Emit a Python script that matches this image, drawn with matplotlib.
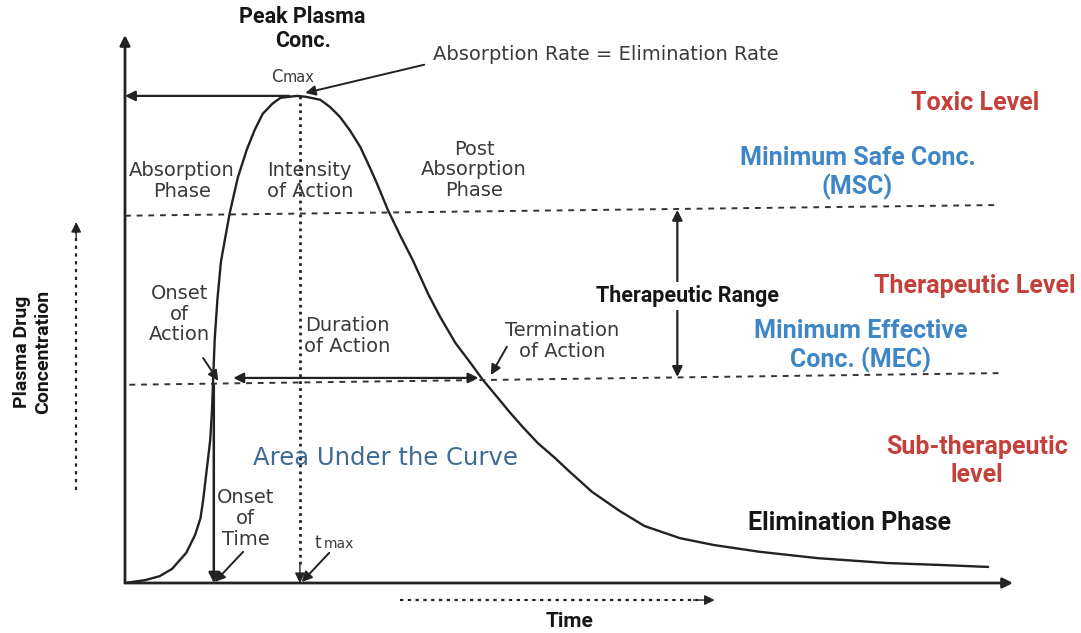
import matplotlib
matplotlib.use("Agg")
import matplotlib.pyplot as plt

# --- data (time in arbitrary units, conc. scaled so Cmax = 10) ---
time = [0.00, 0.23, 0.39, 0.53, 0.69, 0.79, 0.85, 0.88, 0.92, 0.96,
        0.98, 0.99, 1.01, 1.04, 1.08, 1.13, 1.18, 1.27, 1.37, 1.46,
        1.55, 1.66, 1.75, 1.84, 1.94, 2.04, 2.20, 2.31, 2.42, 2.53,
        2.65, 2.76, 2.84, 2.96, 3.10, 3.24, 3.42, 3.55, 3.72, 3.89,
        4.03, 4.19, 4.34, 4.49, 4.65, 4.84, 5.01, 5.26, 5.57, 5.85,
        6.25, 6.63, 7.15, 7.80, 8.58, 9.18, 9.72]
conc = [0.00, 0.06, 0.14, 0.29, 0.62, 0.99, 1.33, 1.70, 2.32, 2.94,
        3.55, 4.07, 4.99, 5.81, 6.59, 7.10, 7.60, 8.32, 8.89, 9.30,
        9.63, 9.84, 9.96, 9.98, 10.00, 9.98, 9.92, 9.77, 9.57, 9.30,
        8.95, 8.52, 8.19, 7.66, 7.13, 6.63, 5.91, 5.46, 4.93, 4.52,
        4.17, 3.82, 3.49, 3.18, 2.87, 2.57, 2.28, 1.87, 1.48, 1.17,
        0.92, 0.78, 0.64, 0.51, 0.41, 0.37, 0.33]

# level lines (slightly tilted in the source drawing)
msc_t = [0.0, 9.85]
msc_c = [7.54, 7.76]
mec_t = [0.05, 9.90]
mec_c = [4.07, 4.31]

t_onset = 1.00
t_max = 1.97
t_term = 4.03
c_max = max(conc)

GRAY = "#3a3a3a"
BLUE = "#3f86c6"
RED = "#c4413b"
AUC = "#3d6b96"
INK = "#161616"
BOLD = ["Roboto", "DejaVu Sans"]
REG = ["DejaVu Sans"]

fig = plt.figure(figsize=(10.81, 6.33), dpi=100)
ax = fig.add_axes([125 / 1081, 50 / 633, 888 / 1081, 548 / 633])
ax.set_xlim(0, 10)
ax.set_ylim(0, 11.25)
ax.axis("off")


def arrow(x0, y0, x1, y1, style="-|>", lw=1.8, scale=15, color="#222222"):
    ax.annotate("", xy=(x1, y1), xytext=(x0, y0), annotation_clip=False,
                arrowprops=dict(arrowstyle=style, lw=lw, color=color,
                                mutation_scale=scale, shrinkA=0, shrinkB=0))


# axes
arrow(0, 0, 0, 11.25, lw=2)
arrow(0, 0, 10, 0, lw=2)

# curve
ax.plot(time, conc, color="#222222", lw=1.7, solid_joinstyle="round",
        solid_capstyle="round")

# MSC / MEC dashed lines
ax.plot(msc_t, msc_c, color="#333333", lw=1.4, ls=(0, (3, 3)))
ax.plot(mec_t, mec_c, color="#333333", lw=1.4, ls=(0, (3, 3)))

# peak -> y axis
arrow(t_max - 0.12, c_max, 0, c_max, lw=1.6)
# tmax dotted drop line
ax.plot([t_max, t_max], [c_max, 0.3], color="#222222", lw=2, ls=(0, (1, 1.5)))
arrow(t_max, 0.4, t_max, 0, lw=1)
# onset solid drop line
arrow(t_onset, 4.07, t_onset, 0, lw=1.8)
# duration of action
arrow(1.22, 4.21, t_term - 0.05, 4.21, style="<|-|>", lw=1.6)
# therapeutic range
arrow(6.22, 7.66, 6.22, 4.23, style="<|-|>", lw=1.6)

# pointer arrows
arrow(3.37, 10.64, 2.03, 10.06, lw=1.4)
arrow(0.88, 4.62, 1.05, 4.15, lw=1.4)
arrow(4.30, 4.85, 4.12, 4.27, lw=1.4)
arrow(1.33, 0.64, 1.01, 0.02, lw=1.4)
arrow(2.30, 0.62, 1.99, 0.02, lw=1.4)

# dotted side arrows
ax.plot([-0.55, -0.55], [1.91, 7.2], color="#222222", lw=1.6, ls=(0, (1.5, 2)),
        clip_on=False)
arrow(-0.55, 7.1, -0.55, 7.41, lw=1)
ax.plot([3.10, 6.45], [-0.35, -0.35], color="#222222", lw=1.6, ls=(0, (1.5, 2)),
        clip_on=False)
arrow(6.4, -0.35, 6.64, -0.35, lw=1)


# --- text ---
def txt(x, y, s, size=14, color=GRAY, bold=False, **kw):
    ax.text(x, y, s, fontsize=size, color=color, ha=kw.pop("ha", "center"),
            va=kw.pop("va", "center"), family=BOLD if bold else REG,
            fontweight="bold" if bold else "normal",
            linespacing=kw.pop("linespacing", 1.2 if bold else 1.12), **kw)


txt(2.0, 11.38, "Peak Plasma\nConc.", size=15.5, color=INK, bold=True,
    linespacing=1.1)
txt(3.47, 10.84, "Absorption Rate = Elimination Rate", ha="left")
txt(1.64, 10.29, "C", size=12, va="baseline", ha="left")
txt(1.78, 10.29, "max", size=10.5, va="baseline", ha="left")

txt(0.64, 8.25, "Absorption\nPhase")
txt(2.08, 8.25, "Intensity\nof Action")
txt(3.93, 8.48, "Post\nAbsorption\nPhase")

txt(9.57, 9.86, "Toxic Level", size=18, color=RED, bold=True)
txt(8.25, 8.42, "Minimum Safe Conc.\n(MSC)", size=18, color=BLUE, bold=True)
txt(6.34, 5.89, "Therapeutic Range", size=15.5, color=INK, bold=True,
    bbox=dict(fc="white", ec="none", pad=2), zorder=5)
txt(9.57, 6.10, "Therapeutic Level", size=18, color=RED, bold=True)
txt(8.28, 4.87, "Minimum Effective\nConc. (MEC)", size=18, color=BLUE, bold=True)

txt(0.61, 5.52, "Onset\nof\nAction")
txt(2.50, 5.07, "Duration\nof Action")
txt(4.92, 4.97, "Termination\nof Action")

txt(2.93, 2.57, "Area Under the Curve", size=17.5, color=AUC)
txt(9.59, 2.51, "Sub-therapeutic\nlevel", size=18, color=RED, bold=True)

txt(1.36, 1.33, "Onset\nof\nTime")
txt(2.13, 0.72, "t", size=12, va="baseline", ha="left")
txt(2.24, 0.72, "max", size=10, va="baseline", ha="left")
txt(8.16, 1.23, "Elimination Phase", size=18, color=INK, bold=True)

txt(5.01, -0.80, "Time", size=15, color=INK, bold=True)
txt(-1.04, 4.74, "Plasma Drug\nConcentration", size=14, color=INK,
    bold=True, rotation=90)

fig.savefig("out.png", dpi=100, facecolor="white")
